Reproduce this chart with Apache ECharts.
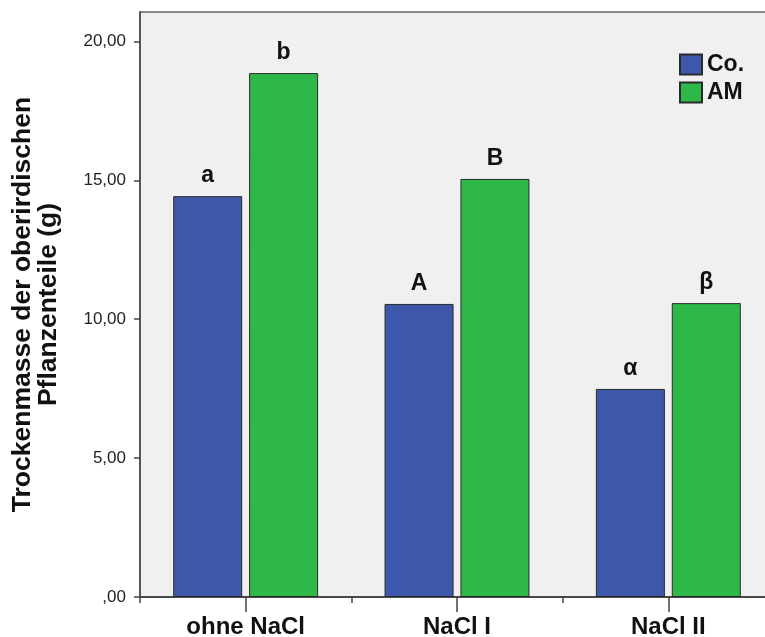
<!DOCTYPE html>
<html>
<head>
<meta charset="utf-8">
<script src="https://cdn.jsdelivr.net/npm/echarts@6/dist/echarts.min.js"></script>
<style>html,body{margin:0;padding:0;background:#fff;}#c{width:765px;height:637px;}</style>
</head>
<body>
<div id="c"></div>
<script>
const categories = ['ohne NaCl', 'NaCl I', 'NaCl II'];
const seriesNames = ['Co.', 'AM'];
const coValues = [14.43, 10.55, 7.49];
const amValues = [18.86, 15.05, 10.58];
const coLetters = ['a', 'A', 'α'];
const amLetters = ['b', 'B', 'β'];
const yTicks = [0, 5, 10, 15, 20];
const yMax = 21.06;

const FONT = '"Liberation Sans", Arial, sans-serif';
const chart = echarts.init(document.getElementById('c'));

function fmt(v) {
  if (v === 0) return ',00';
  return v.toFixed(2).replace('.', ',');
}

const labelStyle = (letters) => ({
  show: true,
  position: 'top',
  distance: 9,
  formatter: (p) => letters[p.dataIndex],
  fontFamily: FONT,
  fontWeight: 'bold',
  fontSize: 23,
  color: '#111'
});

chart.setOption({
  backgroundColor: '#ffffff',
  animation: false,
  grid: {
    left: 140, top: 12, width: 634, bottom: 40,
    outerBoundsMode: 'none', containLabel: false,
    show: true, backgroundColor: '#f0f0f0', borderColor: '#666', borderWidth: 1.5
  },
  legend: {
    orient: 'vertical', left: 679, top: 53, padding: 0,
    itemWidth: 22, itemHeight: 20, itemGap: 5,
    icon: 'rect',
    data: seriesNames,
    textStyle: { fontFamily: FONT, fontWeight: 'bold', fontSize: 23, color: '#111', padding: [3, 0, 0, 0] }
  },
  xAxis: [{
    type: 'category', data: categories, boundaryGap: true,
    axisLine: { show: true, lineStyle: { color: '#444', width: 1.5 } },
    axisTick: { show: true, interval: 0, alignWithLabel: false, length: 6, lineStyle: { color: '#444', width: 1.5 } },
    axisLabel: { fontFamily: FONT, fontWeight: 'bold', fontSize: 24, color: '#111', margin: 18 }
  }, {
    type: 'category', data: categories, boundaryGap: true, position: 'bottom',
    axisLine: { show: true, lineStyle: { color: '#444', width: 1.5 } },
    axisTick: { show: true, interval: 0, alignWithLabel: true, length: 15, lineStyle: { color: '#444', width: 1.5 } },
    axisLabel: { show: false }
  }],
  yAxis: {
    type: 'value', min: 0, max: yMax, interval: 5,
    splitLine: { show: false },
    axisLine: { show: true, lineStyle: { color: '#444', width: 1.5 } },
    axisTick: { show: true, length: 6, customValues: yTicks, lineStyle: { color: '#444', width: 1.5 } },
    axisLabel: { customValues: yTicks, formatter: fmt, fontFamily: FONT, fontSize: 17, color: '#222', margin: 14 },
    name: 'Trockenmasse der oberirdischen\nPflanzenteile (g)',
    nameLocation: 'middle', nameRotate: 90, nameGap: 78,
    nameTextStyle: { fontFamily: FONT, fontWeight: 'bold', fontSize: 26.5, color: '#111', lineHeight: 26 }
  },
  series: [{
    name: seriesNames[0], type: 'bar', data: coValues, barWidth: 69, barGap: '10%',
    itemStyle: { color: '#3d57aa', borderColor: '#2a2a2a', borderWidth: 1 },
    label: labelStyle(coLetters)
  }, {
    name: seriesNames[1], type: 'bar', data: amValues, barWidth: 69, barGap: '10%',
    itemStyle: { color: '#2fb84a', borderColor: '#2a2a2a', borderWidth: 1 },
    label: labelStyle(amLetters)
  }]
});
</script>
</body>
</html>
